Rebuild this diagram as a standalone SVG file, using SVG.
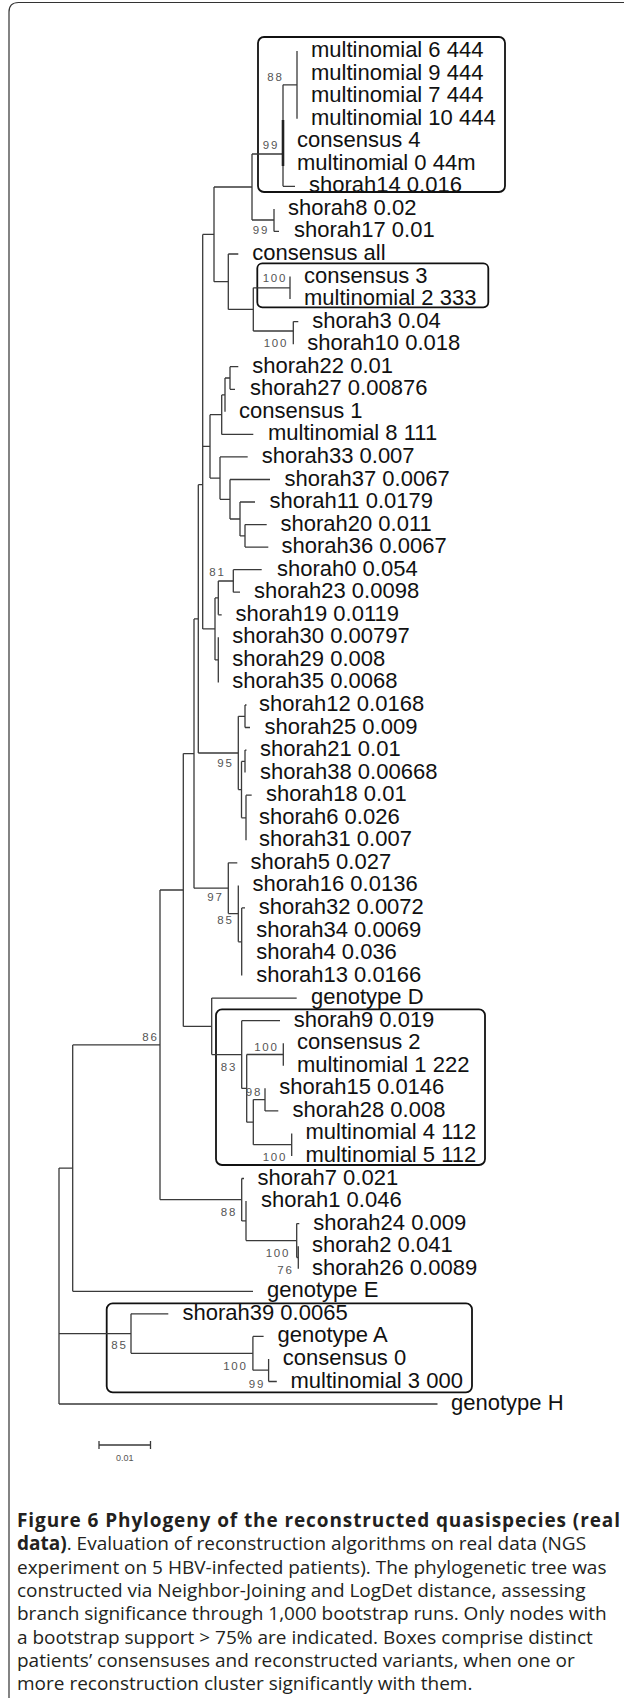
<svg xmlns="http://www.w3.org/2000/svg" width="624" height="1698" viewBox="0 0 624 1698">
<style>
.br{fill:none;stroke:#3a3a3a;stroke-width:1.3}
.thick{fill:none;stroke:#222;stroke-width:2.6}
.box{fill:none;stroke:#111;stroke-width:1.8}
.frame{fill:none;stroke:#333;stroke-width:1.2}
.lf{font-family:"Liberation Sans",Arial,sans-serif;font-size:22px;fill:#111}
.bs{font-family:"Liberation Sans",Arial,sans-serif;font-size:11.5px;fill:#555;letter-spacing:1.7px;text-anchor:end}
.sc{font-family:"Liberation Sans",Arial,sans-serif;font-size:9px;fill:#555;text-anchor:middle}
.cap{font-family:"Open Sans","Liberation Sans",sans-serif;font-size:19px;fill:#231f20}
.b{font-weight:bold}
</style>
<path class="frame" d="M9,1698 V12 Q9,2.5 18.5,2.5 H624"/>
<g id="boxes">
<rect id="box-patient4" class="box" x="258" y="37" width="247" height="155" rx="6"/>
<rect id="box-patient3" class="box" x="257.3" y="263.3" width="231" height="44" rx="5"/>
<rect id="box-patient2" class="box" x="216" y="1009.3" width="269" height="155.7" rx="6"/>
<rect id="box-patient0" class="box" x="106.7" y="1303.3" width="365.3" height="89" rx="6"/>
</g>
<g id="connectors">
<path class="br" d="M283 186.3H295 M274 231.4H279 M228.3 254H238.3 M293.3 321.6H298.3 M230 366.7H238.3 M230 389.3H235 M221.7 434.4H253.3 M220 456.9H247.7 M230 479.5H270 M240 502H255 M245 524.6H266.7 M245 547.1H268.3 M233.3 569.7H261.7 M233.3 592.2H240 M218.3 614.8H221.7 M245 705H246.5 M245 727.5H250 M245 750.1H246.5 M246 795.2H251.7 M228.3 862.8H237.3 M241.7 907.9H245 M211.7 998.1H296.7 M241.7 1020.7H280 M265 1110.9H278.3 M241.7 1178.5H244 M296.7 1223.6H299.3 M72.7 1291.3H253 M131 1313.8H168.3 M252.9 1336.4H263.6 M268.6 1381.5H276.8 M59 1404H437.5"/>
<path class="br" d="M283 84.8H297 M252 154H283 M252 220H274 M214 187H252 M253.3 287.8H290 M253.3 331H293.3 M228.3 309.4H253.3 M214 281.7H228.3 M202.7 234.4H214 M225 378H230 M221.7 394.9H225 M210 414.7H221.7 M240 535.9H245 M230 519H240 M220 499.3H230 M210 478.1H220 M202.7 446.4H210 M218.3 581H233.3 M215 597.9H218.3 M215 659.9H218.3 M202.7 628.9H215 M198.3 484.7H202.7 M238.3 716.3H245 M241.5 761.4H245 M241.5 817.8H246 M238.3 789.6H241.5 M198.3 753H238.3 M194 618.9H198.3 M238.3 941.8H241.7 M228.3 913.6H238.3 M194 888.2H228.3 M183.3 753.6H194 M246.7 1054.5H283.3 M253.3 1099.6H265 M253.3 1144.7H291.7 M246.7 1122.2H253.3 M241.7 1088.4H246.7 M211.7 1054.6H241.7 M183.3 1026.4H211.7 M160 890H183.3 M296.7 1257.5H298.3 M246 1240.6H296.7 M241.7 1220.9H246 M160 1199.7H241.7 M72.7 1044.9H160 M59 1168.1H72.7 M252.9 1370.2H268.6 M131 1353.3H252.9 M59 1333.6H131"/>
<path class="br" d="M297 51V118.7 M283 84.8V186.3 M274 208.9V231.4 M252 154V220 M290 276.5V299.1 M293.3 321.6V344.2 M253.3 287.8V331 M228.3 254V309.4 M214 187V281.7 M230 366.7V389.3 M225 378V411.8 M221.7 394.9V434.4 M245 524.6V547.1 M240 502V535.9 M230 479.5V519 M220 456.9V499.3 M210 414.7V478.1 M202.7 234.4V628.9 M233.3 569.7V592.2 M218.3 581V614.8 M218.3 637.3V682.4 M215 597.9V659.9 M245 705V727.5 M245 750.1V772.6 M246 795.2V840.3 M241.5 761.4V817.8 M238.3 716.3V789.6 M198.3 484.7V753 M241.7 907.9V975.6 M238.3 885.4V941.8 M228.3 862.8V913.6 M194 618.9V888.2 M283.3 1043.2V1065.8 M265 1088.3V1110.9 M291.7 1133.4V1156 M253.3 1099.6V1144.7 M246.7 1054.5V1122.2 M241.7 1020.7V1088.4 M211.7 998.1V1054.6 M183.3 753.6V1026.4 M298.3 1246.2V1268.7 M296.7 1223.6V1257.5 M246 1201.1V1240.6 M241.7 1178.5V1220.9 M160 890V1199.7 M72.7 1044.9V1291.3 M268.6 1358.9V1381.5 M252.9 1336.4V1370.2 M131 1313.8V1353.3 M59 1168.1V1404"/>
<path class="thick" d="M283 120V166"/>
</g>
<g id="bootstrap">
<text class="bs" x="283.5" y="80.5">88</text>
<text class="bs" x="279" y="148.5">99</text>
<text class="bs" x="269" y="233.5">99</text>
<text class="bs" x="287" y="282">100</text>
<text class="bs" x="288" y="347">100</text>
<text class="bs" x="225.5" y="575.5">81</text>
<text class="bs" x="233.5" y="767">95</text>
<text class="bs" x="223.5" y="900.5">97</text>
<text class="bs" x="233.5" y="923.5">85</text>
<text class="bs" x="158.5" y="1041">86</text>
<text class="bs" x="237" y="1070.5">83</text>
<text class="bs" x="278.5" y="1050.5">100</text>
<text class="bs" x="262" y="1096">98</text>
<text class="bs" x="287" y="1160.5">100</text>
<text class="bs" x="237" y="1215.5">88</text>
<text class="bs" x="290" y="1257">100</text>
<text class="bs" x="293.5" y="1273.5">76</text>
<text class="bs" x="127.5" y="1349">85</text>
<text class="bs" x="247.5" y="1370">100</text>
<text class="bs" x="265" y="1387.5">99</text>
</g>
<g id="leaves" class="lf">
<g id="leaf-multinomial6"><text x="311" y="57">multinomial 6 444</text></g>
<g id="leaf-multinomial9"><text x="311" y="79.6">multinomial 9 444</text></g>
<g id="leaf-multinomial7"><text x="311" y="102.1">multinomial 7 444</text></g>
<g id="leaf-multinomial10"><text x="311" y="124.7">multinomial 10 444</text></g>
<g id="leaf-consensus4"><text x="297" y="147.2">consensus 4</text></g>
<g id="leaf-multinomial0"><text x="297" y="169.8">multinomial 0 44m</text></g>
<g id="leaf-shorah14"><text x="309" y="192.3">shorah14 0.016</text></g>
<g id="leaf-shorah8"><text x="288" y="214.9">shorah8 0.02</text></g>
<g id="leaf-shorah17"><text x="294" y="237.4">shorah17 0.01</text></g>
<g id="leaf-consensusall"><text x="252.3" y="260">consensus all</text></g>
<g id="leaf-consensus3"><text x="304" y="282.5">consensus 3</text></g>
<g id="leaf-multinomial2"><text x="304" y="305.1">multinomial 2 333</text></g>
<g id="leaf-shorah3"><text x="312.3" y="327.6">shorah3 0.04</text></g>
<g id="leaf-shorah10"><text x="307.3" y="350.2">shorah10 0.018</text></g>
<g id="leaf-shorah22"><text x="252.3" y="372.7">shorah22 0.01</text></g>
<g id="leaf-shorah27"><text x="250" y="395.3">shorah27 0.00876</text></g>
<g id="leaf-consensus1"><text x="239" y="417.8">consensus 1</text></g>
<g id="leaf-multinomial8"><text x="268" y="440.4">multinomial 8 111</text></g>
<g id="leaf-shorah33"><text x="261.7" y="462.9">shorah33 0.007</text></g>
<g id="leaf-shorah37"><text x="284.5" y="485.5">shorah37 0.0067</text></g>
<g id="leaf-shorah11"><text x="269.5" y="508">shorah11 0.0179</text></g>
<g id="leaf-shorah20"><text x="280.5" y="530.6">shorah20 0.011</text></g>
<g id="leaf-shorah36"><text x="281.5" y="553.1">shorah36 0.0067</text></g>
<g id="leaf-shorah0"><text x="277" y="575.7">shorah0 0.054</text></g>
<g id="leaf-shorah23"><text x="254" y="598.2">shorah23 0.0098</text></g>
<g id="leaf-shorah19"><text x="235.5" y="620.8">shorah19 0.0119</text></g>
<g id="leaf-shorah30"><text x="232.3" y="643.3">shorah30 0.00797</text></g>
<g id="leaf-shorah29"><text x="232.3" y="665.9">shorah29 0.008</text></g>
<g id="leaf-shorah35"><text x="232.3" y="688.4">shorah35 0.0068</text></g>
<g id="leaf-shorah12"><text x="259" y="711">shorah12 0.0168</text></g>
<g id="leaf-shorah25"><text x="264.5" y="733.5">shorah25 0.009</text></g>
<g id="leaf-shorah21"><text x="260" y="756.1">shorah21 0.01</text></g>
<g id="leaf-shorah38"><text x="260" y="778.6">shorah38 0.00668</text></g>
<g id="leaf-shorah18"><text x="266" y="801.2">shorah18 0.01</text></g>
<g id="leaf-shorah6"><text x="259" y="823.7">shorah6 0.026</text></g>
<g id="leaf-shorah31"><text x="259" y="846.3">shorah31 0.007</text></g>
<g id="leaf-shorah5"><text x="250.5" y="868.8">shorah5 0.027</text></g>
<g id="leaf-shorah16"><text x="252.5" y="891.4">shorah16 0.0136</text></g>
<g id="leaf-shorah32"><text x="258.7" y="913.9">shorah32 0.0072</text></g>
<g id="leaf-shorah34"><text x="256.2" y="936.5">shorah34 0.0069</text></g>
<g id="leaf-shorah4"><text x="256.2" y="959">shorah4 0.036</text></g>
<g id="leaf-shorah13"><text x="256.2" y="981.6">shorah13 0.0166</text></g>
<g id="leaf-genotypeD"><text x="311" y="1004.1">genotype D</text></g>
<g id="leaf-shorah9"><text x="293.7" y="1026.7">shorah9 0.019</text></g>
<g id="leaf-consensus2"><text x="297" y="1049.2">consensus 2</text></g>
<g id="leaf-multinomial1"><text x="297" y="1071.8">multinomial 1 222</text></g>
<g id="leaf-shorah15"><text x="279.2" y="1094.3">shorah15 0.0146</text></g>
<g id="leaf-shorah28"><text x="292.5" y="1116.9">shorah28 0.008</text></g>
<g id="leaf-multinomial4"><text x="305.5" y="1139.4">multinomial 4 112</text></g>
<g id="leaf-multinomial5"><text x="305.5" y="1162">multinomial 5 112</text></g>
<g id="leaf-shorah7"><text x="257.5" y="1184.5">shorah7 0.021</text></g>
<g id="leaf-shorah1"><text x="261" y="1207.1">shorah1 0.046</text></g>
<g id="leaf-shorah24"><text x="313.3" y="1229.6">shorah24 0.009</text></g>
<g id="leaf-shorah2"><text x="312" y="1252.2">shorah2 0.041</text></g>
<g id="leaf-shorah26"><text x="312" y="1274.7">shorah26 0.0089</text></g>
<g id="leaf-genotypeE"><text x="267" y="1297.3">genotype E</text></g>
<g id="leaf-shorah39"><text x="182.5" y="1319.8">shorah39 0.0065</text></g>
<g id="leaf-genotypeA"><text x="277.5" y="1342.4">genotype A</text></g>
<g id="leaf-consensus0"><text x="282.7" y="1364.9">consensus 0</text></g>
<g id="leaf-multinomial3"><text x="290.5" y="1387.5">multinomial 3 000</text></g>
<g id="leaf-genotypeH"><text x="451" y="1410">genotype H</text></g>
</g>
<g id="scalebar">
<path class="br" d="M99 1445H150.5 M99 1441V1449 M150.5 1441V1449"/>
<text class="sc" x="124.7" y="1461">0.01</text>
</g>
<g id="caption" class="cap">
<text x="17" y="1527" class="b" textLength="603" lengthAdjust="spacing">Figure 6 Phylogeny of the reconstructed quasispecies (real</text>
<text x="17" y="1550.3"><tspan class="b">data)</tspan>. Evaluation of reconstruction algorithms on real data (NGS</text>
<text x="17" y="1573.6">experiment on 5 HBV-infected patients). The phylogenetic tree was</text>
<text x="17" y="1596.9">constructed via Neighbor-Joining and LogDet distance, assessing</text>
<text x="17" y="1620.2">branch significance through 1,000 bootstrap runs. Only nodes with</text>
<text x="17" y="1643.5">a bootstrap support &gt; 75% are indicated. Boxes comprise distinct</text>
<text x="17" y="1666.8">patients’ consensuses and reconstructed variants, when one or</text>
<text x="17" y="1690.1">more reconstruction cluster significantly with them.</text>
</g>
</svg>
